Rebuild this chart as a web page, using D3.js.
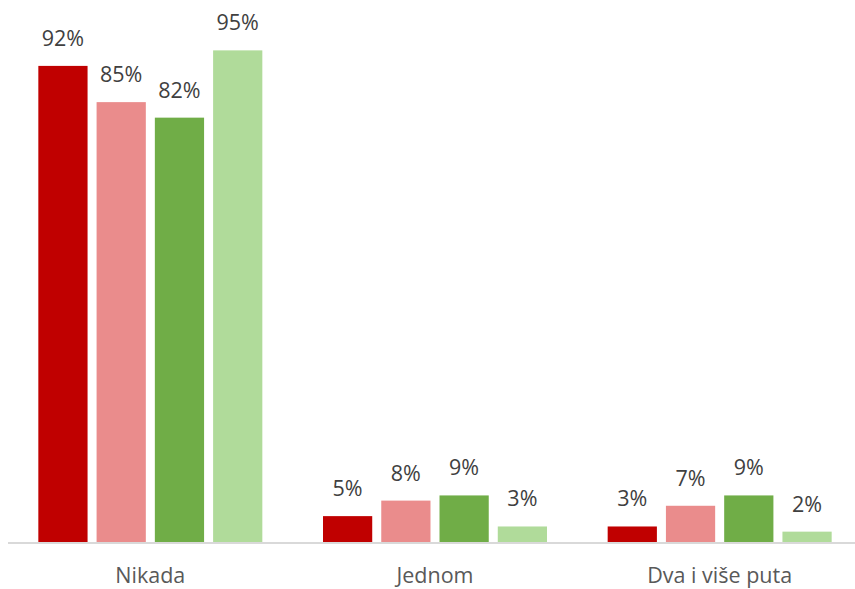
<!DOCTYPE html>
<html>
<head>
<meta charset="utf-8">
<script src="https://cdn.jsdelivr.net/npm/d3@7"></script>
<style>
  html, body { margin: 0; padding: 0; background: #fff; }
  svg { display: block; font-family: "Open Sans", sans-serif; }
</style>
</head>
<body>
<div id="chart"></div>
<script>
(function() {
    'use strict';

    var categories = ['Nikada', 'Jednom', 'Dva i više puta'];
    var series = ['s1', 's2', 's3', 's4'];
    var seriesColors = ['#C00000', '#EA8C8C', '#70AD47', '#B0DB9A'];
    var values = [
        [92, 85, 82, 95],
        [5, 8, 9, 3],
        [3, 7, 9, 2]
    ];

    var width = 855, height = 589;
    var baseY = 542;

    var svg = d3.select('#chart').append('svg')
        .attr('width', width)
        .attr('height', height);

    var x = d3.scaleBand()
        .domain(categories)
        .range([8, 862])
        .paddingInner(0)
        .paddingOuter(0);

    var x1 = d3.scaleBand()
        .domain(series)
        .range([0, 224])
        .paddingInner(0.155);

    var y = d3.scaleLinear()
        .domain([0, 100])
        .range([baseY, 24.5]);

    var groupOffset = (x.bandwidth() - 224) / 2;

    var group = svg.selectAll('g.cat')
        .data(categories)
        .join('g')
        .attr('class', 'cat')
        .attr('transform', function(d) { return 'translate(' + (x(d) + groupOffset) + ',0)'; });

    var cells = group.selectAll('g.bar')
        .data(function(d, i) {
            return values[i].map(function(v, j) { return { s: series[j], v: v, c: seriesColors[j] }; });
        })
        .join('g')
        .attr('class', 'bar');

    cells.append('rect')
        .attr('x', function(d) { return x1(d.s); })
        .attr('y', function(d) { return y(d.v); })
        .attr('width', x1.bandwidth())
        .attr('height', function(d) { return baseY - y(d.v); })
        .attr('fill', function(d) { return d.c; });

    cells.append('text')
        .attr('x', function(d) { return x1(d.s) + x1.bandwidth() / 2; })
        .attr('y', function(d) { return y(d.v) - 20; })
        .attr('text-anchor', 'middle')
        .attr('fill', '#404040')
        .style('font-size', '21.5px')
        .text(function(d) { return d.v + '%'; });

    // Axis line
    svg.append('line')
        .attr('x1', 8).attr('x2', width)
        .attr('y1', baseY + 1).attr('y2', baseY + 1)
        .attr('stroke', '#D9D9D9')
        .attr('stroke-width', 2);

    // Category labels
    svg.selectAll('text.cat-label')
        .data(categories)
        .join('text')
        .attr('class', 'cat-label')
        .attr('x', function(d) { return x(d) + x.bandwidth() / 2; })
        .attr('y', 583)
        .attr('text-anchor', 'middle')
        .attr('fill', '#595959')
        .style('font-size', '21.5px')
        .text(function(d) { return d; });
})();
</script>
</body>
</html>
